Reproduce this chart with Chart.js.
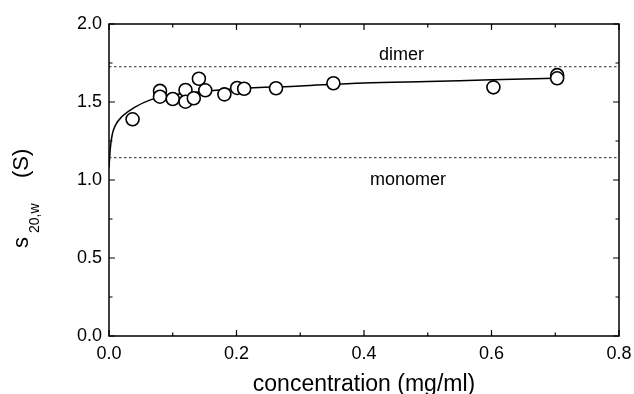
<!DOCTYPE html>
<html>
<head>
<meta charset="utf-8">
<script src="https://cdn.jsdelivr.net/npm/chart.js@4"></script>
<style>
  body { margin: 0; background: #fff; }
  canvas { display: block; }
</style>
</head>
<body>
<canvas id="chart" width="634" height="394"></canvas>
<script>
// measured points
const concentration = [0.037, 0.080, 0.080, 0.100, 0.120, 0.120, 0.133, 0.141, 0.151, 0.181, 0.201, 0.212, 0.262, 0.352, 0.603, 0.703, 0.703];
const s20w = [1.389, 1.571, 1.534, 1.519, 1.577, 1.502, 1.524, 1.649, 1.575, 1.549, 1.590, 1.585, 1.588, 1.620, 1.594, 1.672, 1.652];

// fitted curve
const fitX = [0, 0.002, 0.005, 0.01, 0.02, 0.04, 0.066, 0.1, 0.15, 0.2, 0.3, 0.4, 0.5, 0.6, 0.7];
const fitY = [1.08, 1.20, 1.29, 1.35, 1.405, 1.465, 1.515, 1.545, 1.568, 1.585, 1.603, 1.622, 1.632, 1.642, 1.652];

// reference levels
const dimerLevel = 1.726;
const monomerLevel = 1.143;

const xTicks = [0.0, 0.2, 0.4, 0.6, 0.8];
const yTicks = [0.0, 0.5, 1.0, 1.5, 2.0];

const FONT = '"Liberation Sans", Arial, sans-serif';

const framePlugin = {
    id: 'frame',
    afterDatasetsDraw(chart) {
        const ctx = chart.ctx;
        const xs = chart.scales.x;
        const ys = chart.scales.y;
        const a = chart.chartArea;
        ctx.save();
        ctx.strokeStyle = '#000';
        ctx.lineWidth = 1.5;
        ctx.strokeRect(a.left, a.top, a.right - a.left, a.bottom - a.top);

        ctx.lineWidth = 1.2;
        ctx.beginPath();
        for (let v = 0; v <= 0.8001; v += 0.1) {
            const px = xs.getPixelForValue(v);
            const major = Math.abs(v / 0.2 - Math.round(v / 0.2)) < 1e-6;
            const len = major ? 6 : 3.5;
            ctx.moveTo(px, a.bottom); ctx.lineTo(px, a.bottom - len);
            ctx.moveTo(px, a.top); ctx.lineTo(px, a.top + len);
        }
        for (let v = 0; v <= 2.0001; v += 0.25) {
            const py = ys.getPixelForValue(v);
            const major = Math.abs(v / 0.5 - Math.round(v / 0.5)) < 1e-6;
            const len = major ? 6 : 3.5;
            ctx.moveTo(a.left, py); ctx.lineTo(a.left + len, py);
            ctx.moveTo(a.right, py); ctx.lineTo(a.right - len, py);
        }
        ctx.stroke();

        // level labels
        ctx.fillStyle = '#000';
        ctx.font = '18px ' + FONT;
        ctx.textAlign = 'center';
        ctx.textBaseline = 'middle';
        ctx.fillText('dimer', xs.getPixelForValue(0.459), ys.getPixelForValue(1.80));
        ctx.fillText('monomer', xs.getPixelForValue(0.469), ys.getPixelForValue(1.0));

        // y title with subscript
        ctx.translate(28, 248);
        ctx.rotate(-Math.PI / 2);
        ctx.textAlign = 'left';
        ctx.textBaseline = 'alphabetic';
        ctx.font = '22px ' + FONT;
        ctx.fillText('s', 0, 0);
        ctx.font = '14px ' + FONT;
        ctx.fillText('20,w', 15, 10.5);
        ctx.font = '22px ' + FONT;
        ctx.fillText('(S)', 70, 0);
        ctx.restore();
    }
};

new Chart(document.getElementById('chart'), {
    type: 'scatter',
    data: {
        datasets: [
            {
                label: 'data',
                data: concentration.map((c, i) => ({ x: c, y: s20w[i] })),
                pointRadius: 6.5,
                pointBorderWidth: 1.6,
                pointBackgroundColor: '#fff',
                pointBorderColor: '#000',
                order: 0
            },
            {
                label: 'fit',
                type: 'line',
                data: fitX.map((c, i) => ({ x: c, y: fitY[i] })),
                borderColor: '#000',
                borderWidth: 1.5,
                pointRadius: 0,
                cubicInterpolationMode: 'monotone',
                fill: false,
                order: 1
            },
            {
                label: 'dimer',
                type: 'line',
                data: [{ x: 0, y: dimerLevel }, { x: 0.8, y: dimerLevel }],
                borderColor: '#222',
                borderWidth: 1,
                borderDash: [2.5, 2.5],
                pointRadius: 0,
                order: 2
            },
            {
                label: 'monomer',
                type: 'line',
                data: [{ x: 0, y: monomerLevel }, { x: 0.8, y: monomerLevel }],
                borderColor: '#222',
                borderWidth: 1,
                borderDash: [2.5, 2.5],
                pointRadius: 0,
                order: 2
            }
        ]
    },
    options: {
        responsive: false,
        animation: false,
        layout: { padding: { left: 0, right: 15, top: 24, bottom: 0 } },
        plugins: { legend: { display: false }, tooltip: { enabled: false } },
        scales: {
            x: {
                type: 'linear',
                min: 0, max: 0.8,
                afterBuildTicks: (s) => { s.ticks = xTicks.map(v => ({ value: v })); },
                afterFit: (s) => { s.height = 58; s.paddingLeft = 0; s.paddingRight = 0; },
                grid: { display: false, drawTicks: false },
                border: { display: false },
                ticks: {
                    color: '#000',
                    padding: 7,
                    maxRotation: 0,
                    font: { family: FONT, size: 18 },
                    callback: (v) => v.toFixed(1)
                },
                title: {
                    display: true,
                    text: 'concentration (mg/ml)',
                    color: '#000',
                    font: { family: FONT, size: 23 },
                    padding: { top: 0, bottom: -4 }
                }
            },
            y: {
                type: 'linear',
                min: 0, max: 2,
                afterBuildTicks: (s) => { s.ticks = yTicks.map(v => ({ value: v })); },
                afterFit: (s) => { s.width = 109; s.paddingTop = 0; s.paddingBottom = 0; },
                grid: { display: false, drawTicks: false },
                border: { display: false },
                ticks: {
                    color: '#000',
                    padding: 7,
                    font: { family: FONT, size: 18 },
                    callback: (v) => v.toFixed(1)
                }
            }
        }
    },
    plugins: [framePlugin]
});
</script>
</body>
</html>
